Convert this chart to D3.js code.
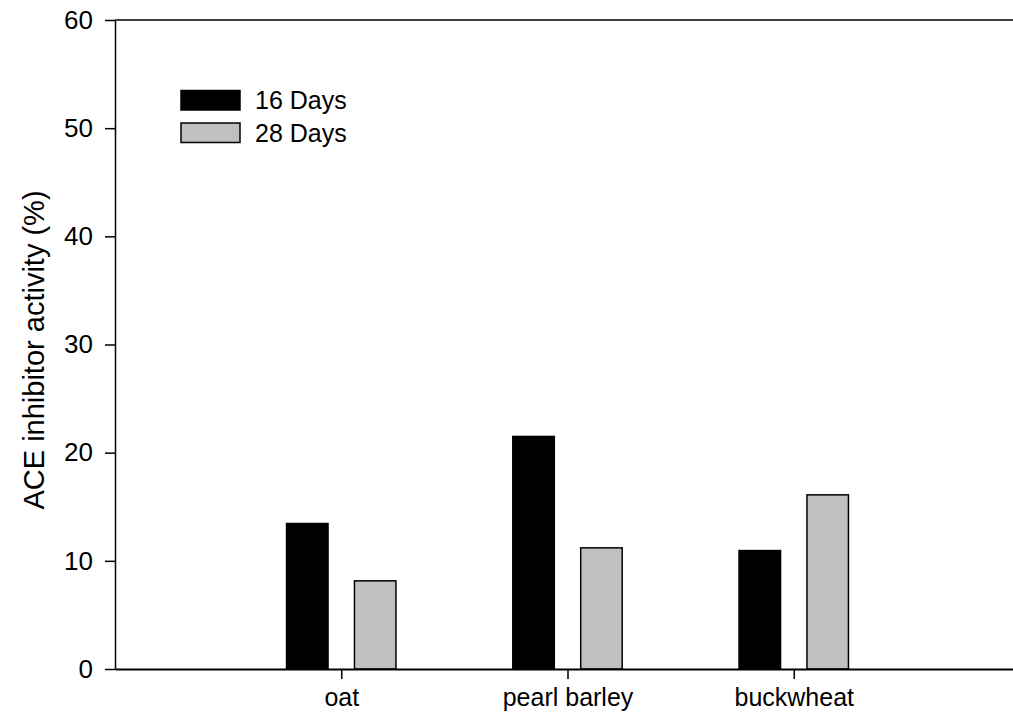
<!DOCTYPE html>
<html>
<head>
<meta charset="utf-8">
<script src="https://cdn.jsdelivr.net/npm/d3@7"></script>
<style>
  html, body { margin: 0; padding: 0; background: #fff; }
  text { font-family: "Liberation Sans", Arial, sans-serif; fill: #000; }
</style>
</head>
<body>
<svg id="chart" width="1013" height="723"></svg>
<script>
const categories = ["oat", "pearl barley", "buckwheat"];
const seriesNames = ["16 Days", "28 Days"];
const days16 = [13.45, 21.5, 10.95];
const days28 = [8.15, 11.2, 16.1];
const yTicks = [0, 10, 20, 30, 40, 50, 60];
const yTitle = "ACE inhibitor activity (%)";

const seriesValues = [days16, days28];
const seriesColors = ["#000000", "#c0c0c0"];

const svg = d3.select("#chart");
const mLeft = 115, mTop = 20, mBottom = 669, mRightEdge = 1020;

const x = d3.scaleLinear().domain([0, 4]).range([mLeft, mRightEdge]);
const y = d3.scaleLinear().domain([0, 60]).range([mBottom, mTop]);
const sub = d3.scaleBand().domain(seriesNames).range([-54.7, 54.7]).paddingInner(0.389).paddingOuter(0);

// bars
seriesNames.forEach((s, si) => {
  svg.append("g").selectAll("rect")
    .data(seriesValues[si])
    .join("rect")
    .attr("x", (d, i) => x(i + 1) + sub(s))
    .attr("width", sub.bandwidth())
    .attr("y", d => y(d))
    .attr("height", d => y(0) - y(d))
    .attr("fill", seriesColors[si])
    .attr("stroke", "#000")
    .attr("stroke-width", 1.5);
});

// top frame line
svg.append("line")
  .attr("x1", mLeft).attr("x2", mRightEdge)
  .attr("y1", y(60)).attr("y2", y(60))
  .attr("stroke", "#000").attr("stroke-width", 1.5);

// y axis
const yAxis = svg.append("g")
  .attr("transform", `translate(${mLeft},0)`)
  .call(d3.axisLeft(y).tickValues(yTicks).tickSize(10).tickSizeOuter(0).tickPadding(12));
yAxis.select(".domain").attr("stroke-width", 1.5);
yAxis.selectAll(".tick line").attr("stroke-width", 1.5);
yAxis.selectAll("text").style("font-size", "26px").attr("fill", "#000");

// x axis
const xAxis = svg.append("g")
  .attr("transform", `translate(0,${mBottom})`)
  .call(d3.axisBottom(x).tickValues([1, 2, 3]).tickFormat(d => categories[d - 1])
        .tickSize(10).tickSizeOuter(0).tickPadding(9));
xAxis.select(".domain").attr("stroke-width", 1.8);
xAxis.selectAll(".tick line").attr("stroke-width", 1.5);
xAxis.selectAll("text").style("font-size", "25px").attr("fill", "#000");

// y title
svg.append("text")
  .attr("transform", `translate(44,350) rotate(-90)`)
  .attr("text-anchor", "middle")
  .style("font-size", "29px")
  .text(yTitle);

// legend
const legend = svg.append("g");
seriesNames.forEach((s, i) => {
  legend.append("rect")
    .attr("x", 181).attr("y", 90.5 + i * 32.5)
    .attr("width", 59).attr("height", 19.5)
    .attr("fill", seriesColors[i]).attr("stroke", "#000").attr("stroke-width", 1.5);
  legend.append("text")
    .attr("x", 255).attr("y", 109 + i * 32.5)
    .style("font-size", "25px")
    .text(s);
});
</script>
</body>
</html>
